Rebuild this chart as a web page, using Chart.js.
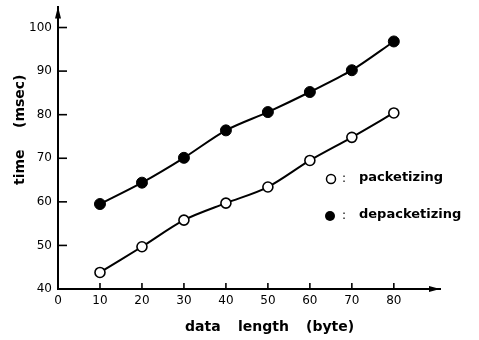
<!DOCTYPE html>
<html>
<head>
<meta charset="utf-8">
<script src="https://cdn.jsdelivr.net/npm/chart.js@4/dist/chart.umd.min.js"></script>
<style>
  html, body { margin: 0; padding: 0; background: #fff; }
  #wrap { width: 479px; height: 340px; position: relative; }
</style>
</head>
<body>
<div id="wrap"><canvas id="timeChart"></canvas></div>
<script>
// data
let dataLength = [10, 20, 30, 40, 50, 60, 70, 80];
let packetizing = [43.8, 49.7, 55.8, 59.7, 63.4, 69.5, 74.8, 80.4];
let depacketizing = [59.5, 64.4, 70.1, 76.4, 80.6, 85.2, 90.2, 96.8];
let xTicks = [0, 10, 20, 30, 40, 50, 60, 70, 80];
let yTicks = [40, 50, 60, 70, 80, 90, 100];

let tickFont = { family: "DejaVu Sans", size: 12 };
let titleFont = "bold 14px 'DejaVu Sans'";
let keyFont = "bold 13px 'DejaVu Sans'";

function toPoints(ys) {
    return dataLength.map((x, i) => ({ x: x, y: ys[i] }));
}

// inward tick marks, arrow heads, axis titles and the little key
let decorations = {
    id: "decorations",
    afterDraw(chart) {
        let ctx = chart.ctx;
        let xs = chart.scales.x;
        let ys = chart.scales.y;
        let area = chart.chartArea;

        ctx.save();
        ctx.strokeStyle = "#000";
        ctx.fillStyle = "#000";
        ctx.lineWidth = 1.6;

        yTicks.forEach(v => {
            if (v === 40) return;
            let y = ys.getPixelForValue(v);
            ctx.beginPath();
            ctx.moveTo(area.left, y);
            ctx.lineTo(area.left + 9, y);
            ctx.stroke();
        });
        xTicks.forEach(v => {
            if (v === 0) return;
            let x = xs.getPixelForValue(v);
            ctx.beginPath();
            ctx.moveTo(x, area.bottom);
            ctx.lineTo(x, area.bottom - 6);
            ctx.stroke();
        });

        // arrows
        ctx.beginPath();
        ctx.moveTo(area.left, area.top);
        ctx.lineTo(area.left - 3, area.top + 12);
        ctx.lineTo(area.left + 3, area.top + 12);
        ctx.closePath();
        ctx.fill();
        ctx.beginPath();
        ctx.moveTo(area.right, area.bottom);
        ctx.lineTo(area.right - 11, area.bottom - 3);
        ctx.lineTo(area.right - 11, area.bottom + 3);
        ctx.closePath();
        ctx.fill();

        // axis titles
        ctx.font = titleFont;
        ctx.textAlign = "left";
        ctx.textBaseline = "middle";
        ctx.fillText("data", 185, 327);
        ctx.fillText("length", 238, 327);
        ctx.fillText("(byte)", 306, 327);
        ctx.save();
        ctx.translate(20, 0);
        ctx.rotate(-Math.PI / 2);
        ctx.fillText("time", -185, 0);
        ctx.fillText("(msec)", -128, 0);
        ctx.restore();

        // key
        ctx.lineWidth = 1.5;
        ctx.beginPath();
        ctx.arc(331, 179, 4.5, 0, Math.PI * 2);
        ctx.fillStyle = "#fff";
        ctx.fill();
        ctx.stroke();
        ctx.fillStyle = "#000";
        ctx.beginPath();
        ctx.arc(330, 216, 5, 0, Math.PI * 2);
        ctx.fill();
        ctx.font = "12px 'DejaVu Sans'";
        ctx.fillText(":", 342, 179);
        ctx.fillText(":", 342, 216);
        ctx.font = keyFont;
        ctx.fillText("packetizing", 359, 178);
        ctx.fillText("depacketizing", 359, 215);
        ctx.restore();
    }
};

let chart = new Chart(document.getElementById("timeChart"), {
    type: "line",
    data: {
        datasets: [
            {
                label: "packetizing",
                data: toPoints(packetizing),
                borderColor: "#000",
                borderWidth: 2,
                tension: 0.3,
                pointRadius: 5,
                pointBorderWidth: 1.6,
                pointBackgroundColor: "#fff",
                pointBorderColor: "#000",
            },
            {
                label: "depacketizing",
                data: toPoints(depacketizing),
                borderColor: "#000",
                borderWidth: 2,
                tension: 0.3,
                pointRadius: 5.5,
                pointBorderWidth: 1,
                pointBackgroundColor: "#000",
                pointBorderColor: "#000",
            },
        ]
    },
    options: {
        responsive: true,
        maintainAspectRatio: false,
        animation: false,
        clip: false,
        layout: { padding: { left: 8, top: 5, right: 39, bottom: 0 } },
        plugins: {
            legend: { display: false },
            tooltip: { enabled: false },
        },
        scales: {
            x: {
                type: "linear",
                min: 0,
                max: 91,
                afterBuildTicks: s => { s.ticks = xTicks.map(v => ({ value: v })); },
                afterFit: s => { s.height = 51; },
                grid: { display: false, drawTicks: false },
                border: { color: "#000", width: 2 },
                ticks: { color: "#000", font: tickFont, padding: 5, maxRotation: 0 },
            },
            y: {
                min: 40,
                max: 104.8,
                afterBuildTicks: s => { s.ticks = yTicks.map(v => ({ value: v })); },
                afterFit: s => { s.width = 50; s.paddingTop = 0; s.paddingBottom = 0; },
                grid: { display: false, drawTicks: false },
                border: { color: "#000", width: 2 },
                ticks: { color: "#000", font: tickFont, padding: 6 },
            },
        },
    },
    plugins: [decorations],
});
</script>
</body>
</html>
